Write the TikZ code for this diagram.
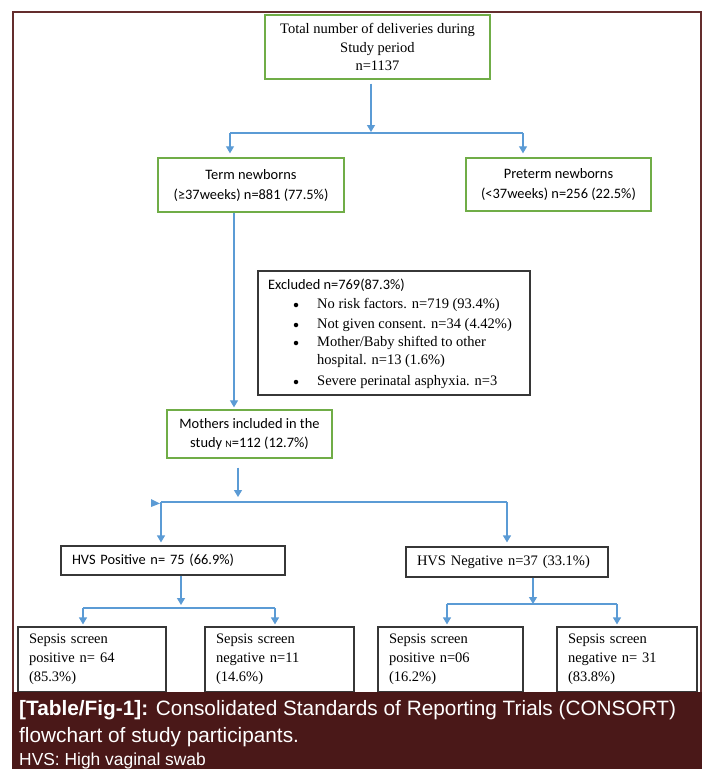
\documentclass[tikz,border=0pt]{standalone}
\usepackage{fontspec}
\usepackage{tikz}
\usepackage{xcolor}
\usetikzlibrary{arrows.meta}

\setmainfont{Liberation Serif}
\newfontfamily\calibrifont{Carlito}
\newfontfamily\capfont{Liberation Sans}

\definecolor{boxgreen}{RGB}{112,173,71}
\definecolor{boxgray}{RGB}{55,55,55}
\definecolor{arrowblue}{RGB}{91,155,213}
\definecolor{framecol}{RGB}{100,45,45}
\definecolor{bandcol}{RGB}{74,24,24}

\tikzset{
    greenbox/.style={draw=boxgreen, line width=1.4pt, align=center, inner sep=0pt},
    blackbox/.style={draw=boxgray, line width=1.2pt, align=left, inner xsep=11pt, inner ysep=0pt},
    link/.style={draw=arrowblue, line width=1.2pt},
    arr/.style={link, -{Triangle[width=8pt,length=7pt]}},
    captext/.style={anchor=base west, text=white, inner sep=0pt}
}

\begin{document}
\begin{tikzpicture}[x=1pt, y=-1pt, font=\fontsize{14.5pt}{18.5pt}\selectfont]
            %\draw[help lines] (0,0) grid (705,769);
            \useasboundingbox (0,0) rectangle (705,769);
            \fill[white] (0,0) rectangle (705,769);

            % boxes
            \node[greenbox, minimum width=225pt, minimum height=64pt] (total) at (377.5,47)
                {Total number of deliveries during\\Study period\\n=1137};
            \node[greenbox, minimum width=186pt, minimum height=54pt, font=\calibrifont\fontsize{14.4pt}{20pt}\selectfont] (term) at (251,185)
                {Term newborns\\(≥37weeks) n=881 (77.5\%)};
            \node[greenbox, minimum width=185pt, minimum height=53pt, font=\calibrifont\fontsize{14.4pt}{20pt}\selectfont] (preterm) at (558.5,184.5)
                {Preterm newborns\\(<37weeks) n=256 (22.5\%)};
            \node[blackbox, minimum width=272pt, minimum height=124pt] (excl) at (394,333) {};
            \node[greenbox, minimum width=165pt, minimum height=48pt, font=\calibrifont\fontsize{14.4pt}{19.5pt}\selectfont] (mothers) at (249.5,434)
                {Mothers included in the\\study {\fontsize{10pt}{10pt}\selectfont N}=112 (12.7\%)};

            \node[blackbox, text width=202pt, minimum height=29pt, font=\calibrifont\fontsize{14.4pt}{18pt}\selectfont] (hvspos) at (173,560.5)
                {HVS Positive n= 75 (66.9\%)};
            \node[blackbox, text width=180pt, minimum height=30pt] (hvsneg) at (507,562)
                {HVS Negative n=37 (33.1\%)};

            \node[blackbox, text width=126pt, minimum height=65pt, font=\fontsize{14.5pt}{19pt}\selectfont] (sp1) at (92,659.5)
                {Sepsis screen\\positive n= 64\\(85.3\%)};
            \node[blackbox, text width=127pt, minimum height=65pt, font=\fontsize{14.5pt}{19pt}\selectfont] (sn1) at (279.5,659.5)
                {Sepsis screen\\negative n=11\\(14.6\%)};
            \node[blackbox, text width=123pt, minimum height=65pt, font=\fontsize{14.5pt}{19pt}\selectfont] (sp2) at (450.5,659.5)
                {Sepsis screen\\positive n=06\\(16.2\%)};
            \node[blackbox, text width=118pt, minimum height=65pt, font=\fontsize{14.5pt}{19pt}\selectfont] (sn2) at (627,659.5)
                {Sepsis screen\\negative n= 31\\(83.8\%)};

            % excluded list
            \node[anchor=west, inner sep=0pt, font=\calibrifont\fontsize{14.4pt}{18pt}\selectfont] (exhead) at (268,285) {Excluded n=769(87.3\%)};
            \foreach \y/\t [count=\k] in {305/{No risk factors. n=719 (93.4\%)}, 325/{Not given consent. n=34 (4.42\%)},
                343/{Mother/Baby shifted to other}, 361/{hospital. n=13 (1.6\%)}, 382/{Severe perinatal asphyxia. n=3}}
            {
                \node[anchor=west, inner sep=0pt] (exitem\k) at (317,\y) {\t};
            }
            \foreach \y [count=\k] in {305,325,343,382}
            {
                \node[circle, fill=black, inner sep=0pt, minimum size=4.5pt] (exdot\k) at (296,\y) {};
            }

            % connectors
            \coordinate (split1) at (371,133);
            \coordinate (split1L) at (230,133);
            \coordinate (split1R) at (523,133);
            \draw[arr, shorten <=4pt, shorten >=1pt] (total.south -| split1) -- (split1);
            \draw[link] (split1L) -- (split1R);
            \draw[arr, shorten >=4pt] (split1L) -- (split1L |- term.north);
            \draw[arr, shorten >=4pt] (split1R) -- (split1R |- preterm.north);

            \draw[arr, shorten >=2pt] ([xshift=-17pt]term.south) -- ([xshift=-15.5pt]mothers.north);

            \coordinate (split2) at (238,502);
            \coordinate (split2L) at (161,502);
            \coordinate (split2R) at (507,502);
            \draw[arr, shorten <=9pt, shorten >=5pt] (mothers.south -| split2) -- (split2);
            \draw[link] (split2L) -- (split2R);
            \fill[arrowblue] (151,499) -- (160,503.5) -- (151,507) -- cycle;
            \draw[arr, shorten >=3pt] (split2L) -- (split2L |- hvspos.north);
            \draw[arr, shorten >=4pt] (split2R) -- (split2R |- hvsneg.north);

            \coordinate (split3) at (181,608);
            \coordinate (split3L) at (83,608);
            \coordinate (split3R) at (275,608);
            \draw[arr, shorten >=3pt] (hvspos.south -| split3) -- (split3);
            \draw[link] (split3L) -- (split3R);
            \draw[arr, shorten >=2pt] (split3L) -- (split3L |- sp1.north);
            \draw[arr, shorten >=2pt] (split3R) -- (split3R |- sn1.north);

            \coordinate (split4) at (533,604);
            \coordinate (split4L) at (447,604);
            \coordinate (split4R) at (617,604);
            \draw[arr] (hvsneg.south -| split4) -- (split4);
            \draw[link] (split4L) -- (split4R);
            \draw[arr, shorten >=2pt] (split4L) -- (split4L |- sp2.north);
            \draw[arr, shorten >=2pt] (split4R) -- (split4R |- sn2.north);

            % frame and caption band
            \draw[framecol, line width=1.5pt] (13,692) -- (13,12) -- (701,12) -- (701,692);
            \fill[bandcol] (12,692) rectangle (702,769);
            \node[captext, font=\capfont\fontsize{20.8pt}{24pt}\selectfont] (cap1) at (19,715)
                {\textbf{[Table/Fig-1]:} Consolidated Standards of Reporting Trials (CONSORT)};
            \node[captext, font=\capfont\fontsize{20.8pt}{24pt}\selectfont] (cap2) at (19,742)
                {flowchart of study participants.};
            \node[captext, font=\capfont\fontsize{17.4pt}{20pt}\selectfont] (cap3) at (19,765)
                {HVS: High vaginal swab};
\end{tikzpicture}
\end{document}
